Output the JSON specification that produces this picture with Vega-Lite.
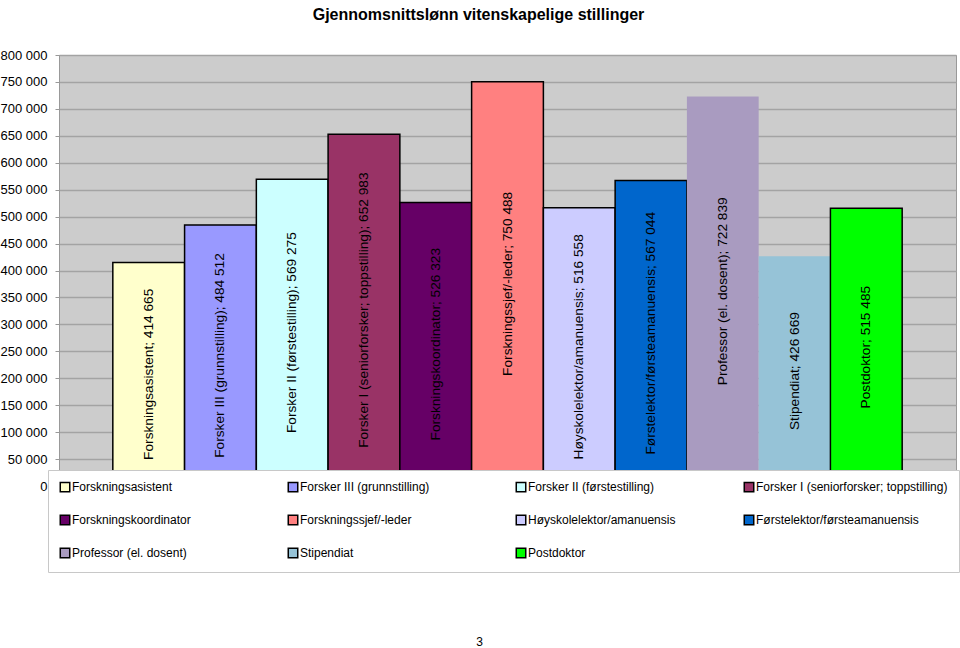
{
  "$schema": "https://vega.github.io/schema/vega-lite/v6.json",
  "autosize": {"type": "none"},
  "width": 897,
  "height": 431,
  "padding": {"left": 59, "top": 55, "right": 4, "bottom": 162},
  "background": "white",
  "title": {
    "text": "Gjennomsnittslønn vitenskapelige stillinger",
    "font": "Liberation Sans",
    "fontSize": 16,
    "fontWeight": "bold",
    "color": "black",
    "anchor": "middle",
    "offset": 26,
    "dx": -29
  },
  "config": {
    "locale": {"number": {"decimal": ",", "thousands": " ", "grouping": [3], "currency": ["", " kr"]}},
    "view": {"fill": "#cccccc", "stroke": "#999999", "strokeWidth": 1},
    "font": "Liberation Sans"
  },
  "data": {
    "values": [
      {"stilling": "Forskningsasistent", "lonn": 414665, "label": "Forskningsasistent; 414 665"},
      {"stilling": "Forsker III (grunnstilling)", "lonn": 484512, "label": "Forsker III (grunnstilling); 484 512"},
      {"stilling": "Forsker II (førstestilling)", "lonn": 569275, "label": "Forsker II (førstestilling); 569 275"},
      {"stilling": "Forsker I (seniorforsker; toppstilling)", "lonn": 652983, "label": "Forsker I (seniorforsker; toppstilling); 652 983"},
      {"stilling": "Forskningskoordinator", "lonn": 526323, "label": "Forskningskoordinator; 526 323"},
      {"stilling": "Forskningssjef/-leder", "lonn": 750488, "label": "Forskningssjef/-leder; 750 488"},
      {"stilling": "Høyskolelektor/amanuensis", "lonn": 516558, "label": "Høyskolelektor/amanuensis; 516 558"},
      {"stilling": "Førstelektor/førsteamanuensis", "lonn": 567044, "label": "Førstelektor/førsteamanuensis; 567 044"},
      {"stilling": "Professor (el. dosent)", "lonn": 722839, "label": "Professor (el. dosent); 722 839"},
      {"stilling": "Stipendiat", "lonn": 426669, "label": "Stipendiat; 426 669"},
      {"stilling": "Postdoktor", "lonn": 515485, "label": "Postdoktor; 515 485"}
    ]
  },
  "resolve": {"axis": {"y": "independent"}},
  "encoding": {
    "x": {
      "field": "stilling",
      "type": "nominal",
      "sort": null,
      "scale": {"paddingInner": 0, "paddingOuter": 0.75},
      "axis": {
        "title": "3",
        "titleFont": "Liberation Sans",
        "titleFontSize": 12,
        "titleFontWeight": "normal",
        "titleColor": "black",
        "titlePadding": 150,
        "titleX": 420,
        "labels": false,
        "ticks": false,
        "domain": false
      }
    }
  },
  "layer": [
    {
      "mark": {"type": "bar", "strokeWidth": 1.5},
      "encoding": {
        "y": {
          "field": "lonn",
          "type": "quantitative",
          "scale": {"domain": [0, 800000], "nice": false},
          "axis": {
            "title": null,
            "orient": "left",
            "values": [0, 50000, 100000, 150000, 200000, 250000, 300000, 350000, 400000, 450000, 500000, 550000, 600000, 650000, 700000, 750000, 800000],
            "format": ",d",
            "labelOverlap": false,
            "labelFont": "Liberation Sans",
            "labelFontSize": 13,
            "labelColor": "black",
            "labelPadding": 8,
            "tickSize": 4,
            "tickColor": "#999999",
            "domainColor": "#999999",
            "grid": true,
            "gridColor": "#a3a3a3",
            "gridWidth": 1.5
          }
        },
        "color": {
          "field": "stilling",
          "type": "nominal",
          "sort": null,
          "scale": {
            "domain": ["Forskningsasistent", "Forsker III (grunnstilling)", "Forsker II (førstestilling)", "Forsker I (seniorforsker; toppstilling)", "Forskningskoordinator", "Forskningssjef/-leder", "Høyskolelektor/amanuensis", "Førstelektor/førsteamanuensis", "Professor (el. dosent)", "Stipendiat", "Postdoktor"],
            "range": ["#ffffcc", "#9999ff", "#ccffff", "#993366", "#660066", "#ff8080", "#ccccff", "#0066cc", "#a99bc0", "#96c3d7", "#00ff00"]
          },
          "legend": {
            "orient": "none",
            "legendX": -11,
            "legendY": 415,
            "direction": "horizontal",
            "columns": 4,
            "gridAlign": "all",
            "title": null,
            "symbolType": "square",
            "symbolSize": 90,
            "symbolStrokeWidth": 1.5,
            "symbolOpacity": 1,
            "labelFont": "Liberation Sans",
            "labelFontSize": 12,
            "labelColor": "black",
            "labelOffset": 1,
            "labelLimit": 300,
            "columnPadding": 21,
            "rowPadding": 17,
            "padding": 11,
            "fillColor": "white",
            "strokeColor": "#c8c8c8",
            "encode": {
              "symbols": {
                "update": {
                  "stroke": {"signal": "indexof(['Professor (el. dosent)', 'Stipendiat'], datum.value) >= 0 ? 'transparent' : 'black'"}
                }
              }
            }
          }
        },
        "stroke": {
          "condition": {"test": "indexof(['Professor (el. dosent)', 'Stipendiat'], datum.stilling) >= 0", "value": "transparent"},
          "value": "black"
        }
      }
    },
    {
      "transform": [{"calculate": "datum.lonn / 2", "as": "midt"}],
      "mark": {"type": "text", "angle": 270, "font": "Liberation Sans", "fontSize": 13.7, "color": "black", "align": "center", "baseline": "middle"},
      "encoding": {
        "y": {"field": "midt", "type": "quantitative", "axis": null},
        "text": {"field": "label"}
      }
    }
  ]
}
